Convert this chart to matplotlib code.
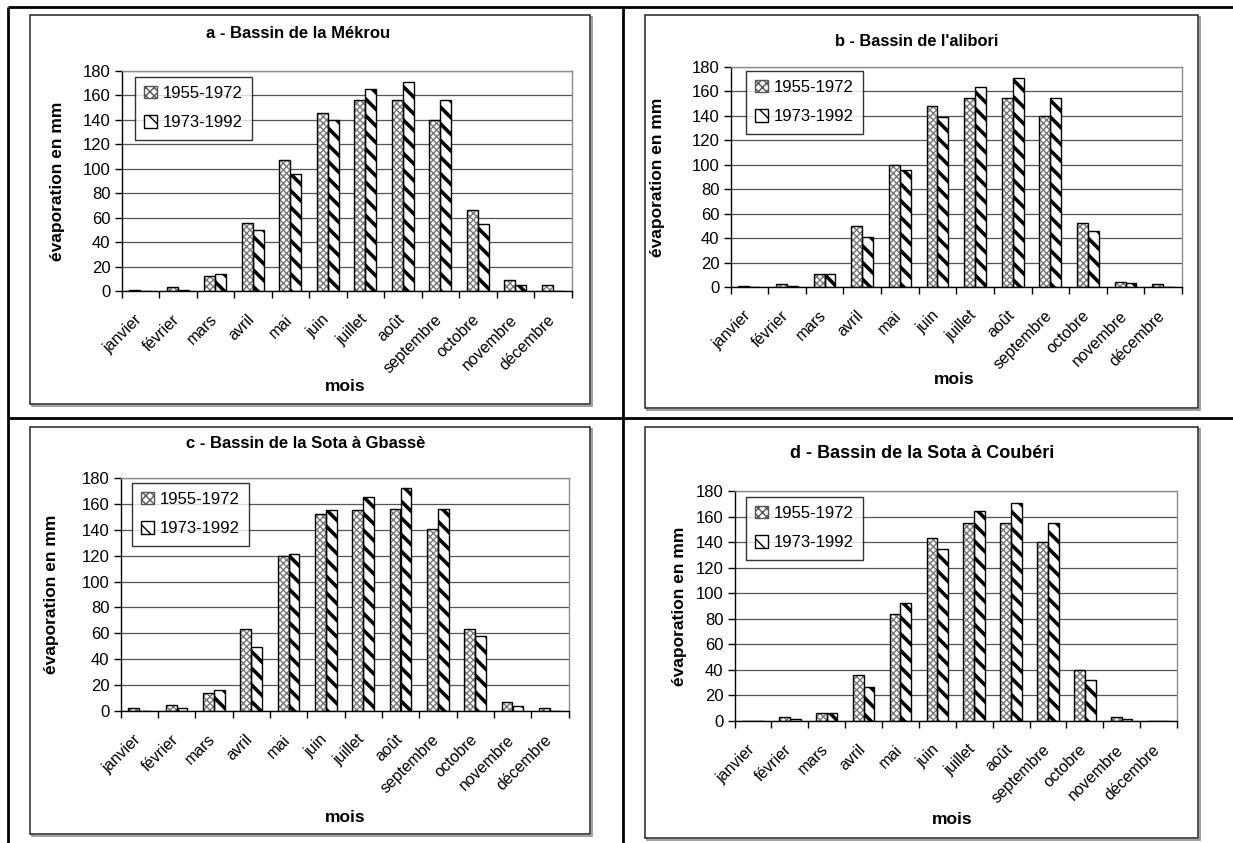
import matplotlib
matplotlib.use("Agg")
import matplotlib.pyplot as plt
from matplotlib.patches import Rectangle, Patch
from matplotlib.lines import Line2D
from matplotlib.transforms import ScaledTranslation
import numpy as np

plt.rcParams['font.family'] = ['Liberation Sans', 'DejaVu Sans']

months = ['janvier', 'février', 'mars', 'avril', 'mai', 'juin', 'juillet',
          'août', 'septembre', 'octobre', 'novembre', 'décembre']
series_names = ['1955-1972', '1973-1992']

titles = ['a - Bassin de la Mékrou', "b - Bassin de l'alibori",
          'c - Bassin de la Sota à Gbassè', 'd - Bassin de la Sota à Coubéri']

a_1955 = [1, 3.5, 12, 56, 107, 146, 156, 156, 140, 66, 9, 5]
a_1973 = [0, 1, 14, 50, 96, 140, 165, 171, 156, 55, 5, 0]
b_1955 = [1, 2.5, 11, 50, 100, 148, 155, 155, 140, 52.5, 4, 2.5]
b_1973 = [0, 1, 11, 41, 96, 139, 164, 171, 155, 46, 3, 0]
c_1955 = [2, 5, 14, 63, 120, 152, 155, 156, 140.5, 63, 7, 2.5]
c_1973 = [0, 2.5, 16.5, 49.5, 121, 155, 165, 172, 156, 58, 3.5, 0]
d_1955 = [0, 3, 6.5, 36, 84, 143, 155, 155, 140, 40, 3, 0]
d_1973 = [0, 1.5, 6.5, 26.5, 92, 135, 164, 171, 155, 32, 1.5, 0]

W, H = 1233, 843
fig = plt.figure(figsize=(W / 100, H / 100), dpi=100)


def fx(x):
    return x / W


def fy(y):
    return 1 - y / H


# table grid lines
tl = dict(color='black', lw=2.0, transform=fig.transFigure, solid_capstyle='butt')
fig.add_artist(Line2D([fx(8), fx(W)], [fy(7), fy(7)], **tl))
fig.add_artist(Line2D([fx(8), fx(W)], [fy(418), fy(418)], **tl))
fig.add_artist(Line2D([fx(8), fx(8)], [fy(7), fy(H)], **tl))
fig.add_artist(Line2D([fx(623), fx(623)], [fy(7), fy(H)], **tl))

panels = [
    dict(s1=a_1955, s2=a_1973, title=titles[0], tsize=12, box=(30, 15, 590, 404),
         plot=(121.5, 71, 571.5, 291), tpos=(298, 33), leg=(135, 77), mois=(345, 387), ylab=65),
    dict(s1=b_1955, s2=b_1973, title=titles[1], tsize=11.8, box=(645, 15, 1198, 408),
         plot=(730.5, 67, 1182, 287), tpos=(917, 42), leg=(746, 71), mois=(954, 380), ylab=665),
    dict(s1=c_1955, s2=c_1973, title=titles[2], tsize=12, box=(30, 427, 590, 834),
         plot=(120.5, 478, 568.5, 711), tpos=(306, 443), leg=(132, 483), mois=(345, 818), ylab=59),
    dict(s1=d_1955, s2=d_1973, title=titles[3], tsize=13, box=(645, 427, 1198, 838),
         plot=(734.5, 491, 1177, 721), tpos=(922, 453), leg=(746, 497), mois=(952, 820), ylab=687),
]

grey = '#8c8c8c'
x = np.arange(1, len(months) + 1)
bw = 0.29
shift = ScaledTranslation(-6 / 100, 0, fig.dpi_scale_trans)

for p in panels:
    l, t, r, b = p['box']
    fig.add_artist(Rectangle((fx(l + 1.5), fy(b + 1.5)), fx(r - l), fy(t) - fy(b),
                             transform=fig.transFigure, fill=False,
                             edgecolor='#909090', lw=1.2, zorder=-2))
    fig.add_artist(Rectangle((fx(l), fy(b)), fx(r - l), fy(t) - fy(b),
                             transform=fig.transFigure, facecolor='white',
                             edgecolor='#222222', lw=1.1, zorder=-1))
    pl, pt, pr, pb = p['plot']
    ax = fig.add_axes([fx(pl), fy(pb), fx(pr - pl), fy(pt) - fy(pb)])
    ax.patch.set_alpha(0)
    ax.set_xlim(0.5, 12.5)
    ax.set_ylim(0, 180)
    ax.set_yticks(np.arange(0, 181, 20))
    ax.yaxis.grid(True, color='#555555', lw=0.9)
    ax.set_axisbelow(True)
    for sp in ['top', 'right']:
        ax.spines[sp].set_color(grey)
        ax.spines[sp].set_linewidth(1.0)
    for sp in ['left', 'bottom']:
        ax.spines[sp].set_color('black')
        ax.spines[sp].set_linewidth(1.0)
    ax.tick_params(axis='y', labelsize=12, length=5, width=1, pad=3)
    ax.set_xticks(x)
    ax.set_xticklabels(months, rotation=45, ha='right', rotation_mode='anchor', fontsize=11.5)
    ax.tick_params(axis='x', which='major', length=0, pad=15)
    for lab in ax.get_xticklabels():
        lab.set_transform(lab.get_transform() + shift)
    ax.set_xticks(np.arange(0.5, 12.6, 1), minor=True)
    ax.tick_params(axis='x', which='minor', length=5, width=1)

    ax.bar(x - bw / 2, p['s1'], bw, color='white', edgecolor='#777777', lw=0,
           hatch='xxxxx', zorder=2)
    ax.bar(x - bw / 2, p['s1'], bw, fill=False, edgecolor='black', lw=1.0, zorder=3)
    bars2 = ax.bar(x + bw / 2, p['s2'], bw, color='white', edgecolor='black', lw=0,
                   hatch='\\\\', zorder=2)
    for br in bars2:
        try:
            br.set_hatch_linewidth(2.6)
        except Exception:
            pass
    ax.bar(x + bw / 2, p['s2'], bw, fill=False, edgecolor='black', lw=1.0, zorder=3)

    ax.set_ylabel('évaporation en mm', fontsize=12.5, fontweight='bold')
    ax.yaxis.set_label_coords(fx(p['ylab']), (fy(pt) + fy(pb)) / 2, transform=fig.transFigure)
    fig.text(fx(p['tpos'][0]), fy(p['tpos'][1]), p['title'], fontsize=p['tsize'],
             fontweight='bold', ha='center', va='center')
    fig.text(fx(p['mois'][0]), fy(p['mois'][1]), 'mois', fontsize=12.5,
             fontweight='bold', ha='center', va='center')

    h1 = Patch(facecolor='white', edgecolor='#555555', hatch='xxxx', lw=1.0)
    h2 = Patch(facecolor='white', edgecolor='black', hatch='\\\\', lw=1.0)
    try:
        h2.set_hatch_linewidth(2.0)
    except Exception:
        pass
    lx, ly = p['leg']
    leg = ax.legend([h1, h2], series_names, loc='upper left',
                    bbox_to_anchor=(fx(lx), fy(ly)), bbox_transform=fig.transFigure,
                    fontsize=12, frameon=True, fancybox=False, edgecolor='black',
                    handlelength=0.75, handleheight=0.75, handletextpad=0.35,
                    labelspacing=0.85, borderpad=0.55, borderaxespad=0)
    leg.get_frame().set_linewidth(1.0)

fig.savefig('out.png', dpi=100)
